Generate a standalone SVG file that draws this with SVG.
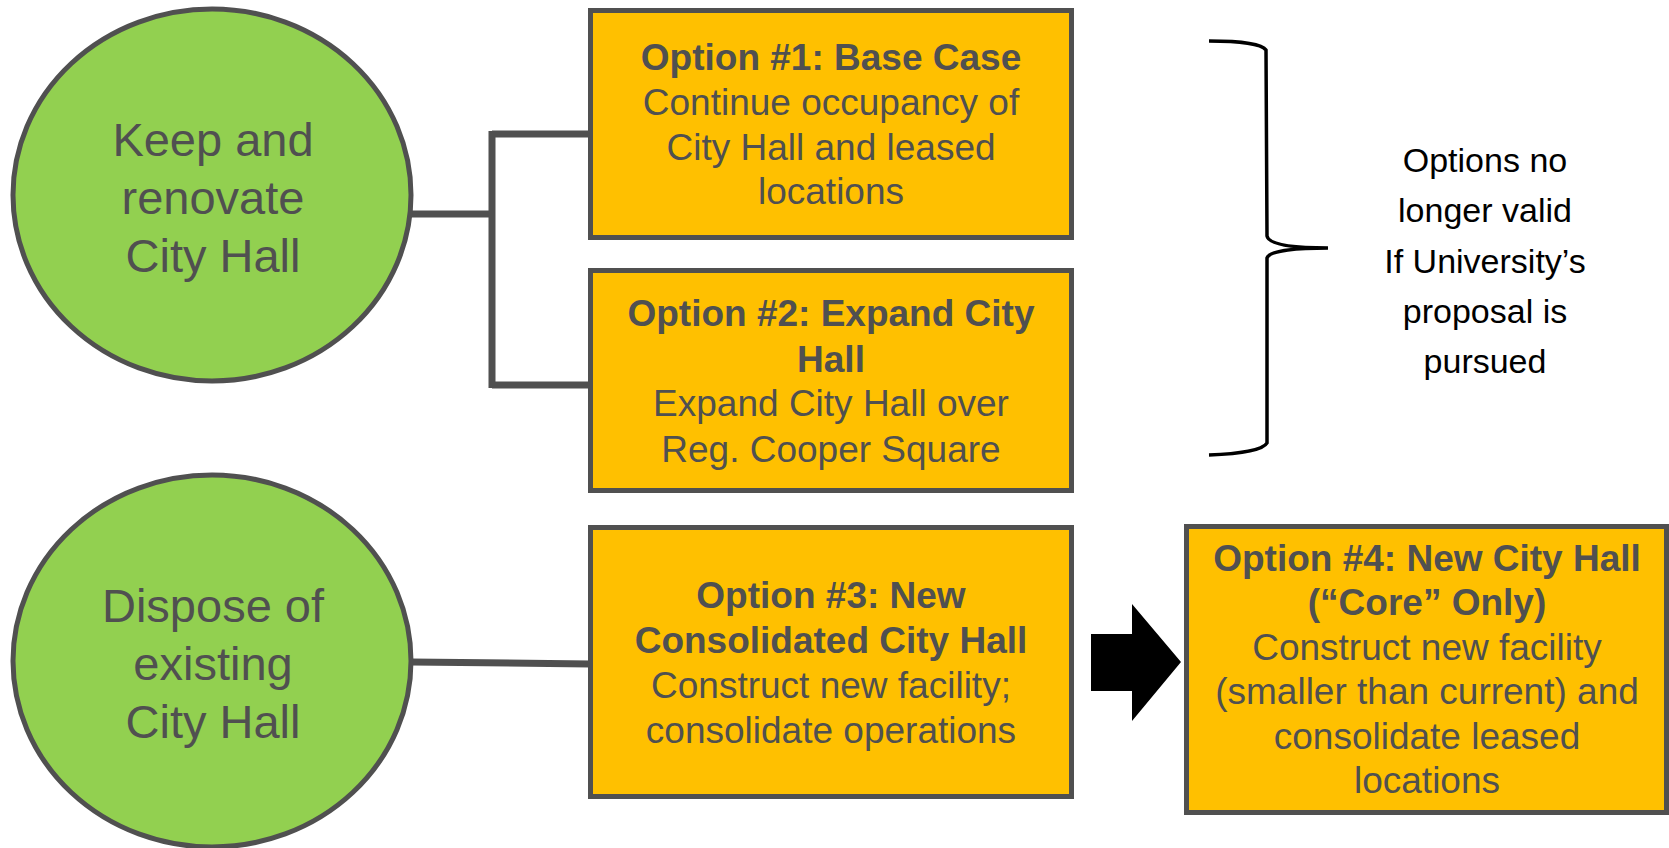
<svg xmlns="http://www.w3.org/2000/svg" width="1669" height="848" viewBox="0 0 1669 848">
<style>
.circ{fill:#92D050;stroke:#505050;stroke-width:5}
.box{fill:#FFC000;stroke:#505050;stroke-width:5}
.conn{stroke:#505050;stroke-width:7;fill:none}
.t{font-family:"Liberation Sans",Arial,sans-serif;fill:#505050;text-anchor:middle}
.big{font-size:47px}
.mid{font-size:37px}
.b{font-weight:bold}
.note{font-family:"Liberation Sans",Arial,sans-serif;fill:#000;font-size:34px;text-anchor:middle}
</style>
<rect width="1669" height="848" fill="#fff"/>
<g id="connectors">
<line class="conn" x1="410" y1="214" x2="492" y2="214"/>
<line class="conn" x1="492" y1="131" x2="492" y2="388"/>
<line class="conn" x1="492" y1="134" x2="590" y2="134"/>
<line class="conn" x1="492" y1="385" x2="590" y2="385"/>
<line class="conn" x1="411" y1="662" x2="590" y2="664"/>
<polygon id="arrow" points="1091,634 1132,634 1132,604 1181,662 1132,721 1132,691 1091,691" fill="#000"/>
</g>
<g id="keep">
<ellipse class="circ" cx="212" cy="195" rx="199" ry="186"/>
<text class="t big" x="213"><tspan x="213" y="156">Keep and</tspan><tspan x="213" y="214">renovate</tspan><tspan x="213" y="272">City Hall</tspan></text>
</g>
<g id="dispose">
<ellipse class="circ" cx="212" cy="661" rx="199" ry="186"/>
<text class="t big"><tspan x="213" y="622">Dispose of</tspan><tspan x="213" y="680">existing</tspan><tspan x="213" y="738">City Hall</tspan></text>
</g>
<g id="opt1">
<rect class="box" x="590.5" y="10.5" width="481" height="227"/>
<text class="t mid"><tspan class="b" x="831" y="70">Option #1: Base Case</tspan><tspan x="831" y="115">Continue occupancy of</tspan><tspan x="831" y="160">City Hall and leased</tspan><tspan x="831" y="204">locations</tspan></text>
</g>
<g id="opt2">
<rect class="box" x="590.5" y="270.5" width="481" height="220"/>
<text class="t mid"><tspan class="b" x="831" y="326">Option #2: Expand City</tspan><tspan class="b" x="831" y="372">Hall</tspan><tspan x="831" y="416">Expand City Hall over</tspan><tspan x="831" y="462">Reg. Cooper Square</tspan></text>
</g>
<g id="opt3">
<rect class="box" x="590.5" y="527.5" width="481" height="269"/>
<text class="t mid"><tspan class="b" x="831" y="608">Option #3: New</tspan><tspan class="b" x="831" y="653">Consolidated City Hall</tspan><tspan x="831" y="698">Construct new facility;</tspan><tspan x="831" y="743">consolidate operations</tspan></text>
</g>
<g id="opt4">
<rect class="box" x="1186.5" y="526.5" width="480" height="286"/>
<text class="t mid"><tspan class="b" x="1427" y="571">Option #4: New City Hall</tspan><tspan class="b" x="1427" y="615">(“Core” Only)</tspan><tspan x="1427" y="660">Construct new facility</tspan><tspan x="1427" y="704">(smaller than current) and</tspan><tspan x="1427" y="749">consolidate leased</tspan><tspan x="1427" y="793">locations</tspan></text>
</g>
<g id="brace">
<path d="M1209,41 C1240,41 1262,44 1266,50 L1267,236 C1269,246 1300,248 1328,248 C1300,248 1269,250 1267,258 L1267,443 C1263,450 1240,454 1209,455" fill="none" stroke="#000" stroke-width="3.5"/>
</g>
<g id="note">
<text class="note"><tspan x="1485" y="172">Options no</tspan><tspan x="1485" y="222">longer valid</tspan><tspan x="1485" y="273">If University’s</tspan><tspan x="1485" y="323">proposal is</tspan><tspan x="1485" y="373">pursued</tspan></text>
</g>
</svg>
